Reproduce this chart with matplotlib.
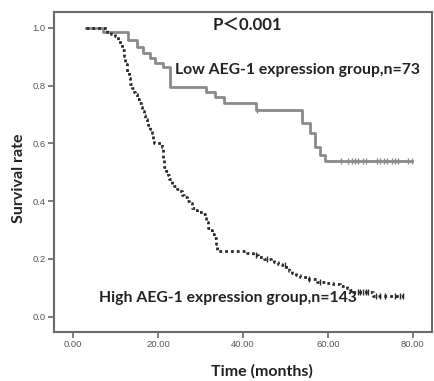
import numpy as np
import matplotlib
matplotlib.use("Agg")
import matplotlib.pyplot as plt

# Kaplan-Meier curves (time in months, survival fraction)
low_time = [3.0, 7.0, 12.9, 15.1, 16.5, 18.1, 19.3, 21.2, 22.8, 31.2, 33.5, 35.5,
            43.0, 53.9, 55.8, 56.9, 58.1, 59.3, 79.8]
low_surv = [1.0, 0.986, 0.959, 0.932, 0.913, 0.896, 0.879, 0.865, 0.796, 0.779,
            0.761, 0.740, 0.716, 0.671, 0.637, 0.588, 0.561, 0.540, 0.540]
low_censor = [43.4, 63.1, 64.7, 65.6, 66.4, 67.1, 68.2, 69.0, 71.5, 72.2, 73.2,
              73.9, 75.1, 75.8, 76.5, 78.8, 79.8]

high_time = [3.0, 8.0, 9.0, 9.8, 10.6, 11.1, 11.5, 11.9, 12.3, 12.7, 13.1, 13.5,
             13.9, 14.3, 14.7, 15.1, 15.5, 15.9, 16.3, 16.6, 16.9, 17.3, 17.7,
             18.1, 18.5, 18.8, 19.1, 21.0, 21.2, 21.5, 21.9, 22.3, 22.7, 23.2,
             23.8, 24.4, 25.0, 25.6, 26.2, 26.8, 27.4, 28.0, 28.6, 29.2, 30.6,
             31.0, 31.4, 31.8, 32.3, 32.8, 33.2, 33.6, 34.0, 41.0, 42.3, 43.5,
             45.0, 46.5, 47.4, 48.3, 49.3, 50.2, 50.8, 51.5, 52.5, 53.5, 55.0,
             57.5, 59.5, 61.2, 62.8, 64.6, 65.3, 66.0, 70.6, 77.6]
high_surv = [1.0, 0.986, 0.979, 0.972, 0.958, 0.944, 0.923, 0.902, 0.874, 0.846,
             0.825, 0.804, 0.790, 0.776, 0.769, 0.755, 0.741, 0.727, 0.713, 0.699,
             0.685, 0.671, 0.664, 0.650, 0.636, 0.615, 0.601, 0.587, 0.545, 0.517,
             0.503, 0.489, 0.475, 0.461, 0.454, 0.441, 0.434, 0.420, 0.413, 0.399,
             0.392, 0.378, 0.371, 0.364, 0.357, 0.343, 0.329, 0.308, 0.301, 0.287,
             0.273, 0.252, 0.228, 0.221, 0.214, 0.207, 0.200, 0.196, 0.189, 0.182,
             0.178, 0.171, 0.157, 0.150, 0.143, 0.136, 0.132, 0.122, 0.118, 0.114,
             0.107, 0.100, 0.093, 0.086, 0.073, 0.073]
high_censor = [43.0, 45.6, 50.0, 55.6, 58.2, 67.0, 67.6, 68.2, 68.9, 69.5, 71.3,
               72.2, 73.5, 75.8, 77.0, 77.6]

x_ticks = [0, 20, 40, 60, 80]
y_ticks = [0.0, 0.2, 0.4, 0.6, 0.8, 1.0]


def surv_at(times, surv, t):
    idx = np.searchsorted(times, t, side="right") - 1
    return np.array(surv)[idx]


bold_font = ["Lato", "Noto Sans CJK SC", "DejaVu Sans"]

fig = plt.figure(figsize=(4.35, 3.81), dpi=100)
ax = fig.add_axes([0.124, 0.129, 0.869, 0.840])

low_color = "#8a8a8a"
high_color = "#2a2a2a"

ax.step(low_time, low_surv, where="post", color=low_color, linewidth=2.0)
ax.plot(low_censor, surv_at(low_time, low_surv, low_censor), linestyle="none",
        marker="|", markersize=5, markeredgewidth=1.0, color=low_color)

ax.step(high_time, high_surv, where="post", color=high_color, linewidth=2.0,
        linestyle=(0, (1, 1.1)))
ax.plot(high_censor, surv_at(high_time, high_surv, high_censor), linestyle="none",
        marker="|", markersize=5, markeredgewidth=1.0, color=high_color)

ax.set_xlim(-4.5, 84.5)
ax.set_ylim(-0.052, 1.055)
ax.set_xticks(x_ticks)
ax.set_xticklabels([f"{v:.2f}" for v in x_ticks])
ax.set_yticks(y_ticks)
ax.set_yticklabels([f"{v:.1f}" for v in y_ticks])

for side in ["left", "right", "top", "bottom"]:
    ax.spines[side].set_color("#6a6a6a")
    ax.spines[side].set_linewidth(1.5)
ax.tick_params(direction="out", length=4, width=1.2, color="#6a6a6a",
               labelsize=6.8, labelcolor="#555555", pad=2)
for lab in ax.get_xticklabels() + ax.get_yticklabels():
    lab.set_family("Liberation Sans")

ax.set_xlabel("Time (months)", family=bold_font, fontweight="bold", fontsize=11.5,
              color="#222222")
ax.xaxis.set_label_coords(0.55, -0.1)
ax.set_ylabel("Survival rate", family=bold_font, fontweight="bold", fontsize=11.5,
              color="#222222")
ax.yaxis.set_label_coords(-0.074, 0.48)

ax.text(32.9, 1.005, "P\uff1c0.001", family=bold_font, fontweight="bold",
        fontsize=12, va="center", ha="left", color="#222222")
ax.text(24.0, 0.855, "Low AEG-1 expression group,n=73", family=bold_font,
        fontweight="bold", fontsize=11.3, va="center", ha="left", color="#222222")
ax.text(6.1, 0.066, "High AEG-1 expression group,n=143", family=bold_font,
        fontweight="bold", fontsize=11.3, va="center", ha="left", color="#222222")

fig.savefig("out.png", dpi=100)
